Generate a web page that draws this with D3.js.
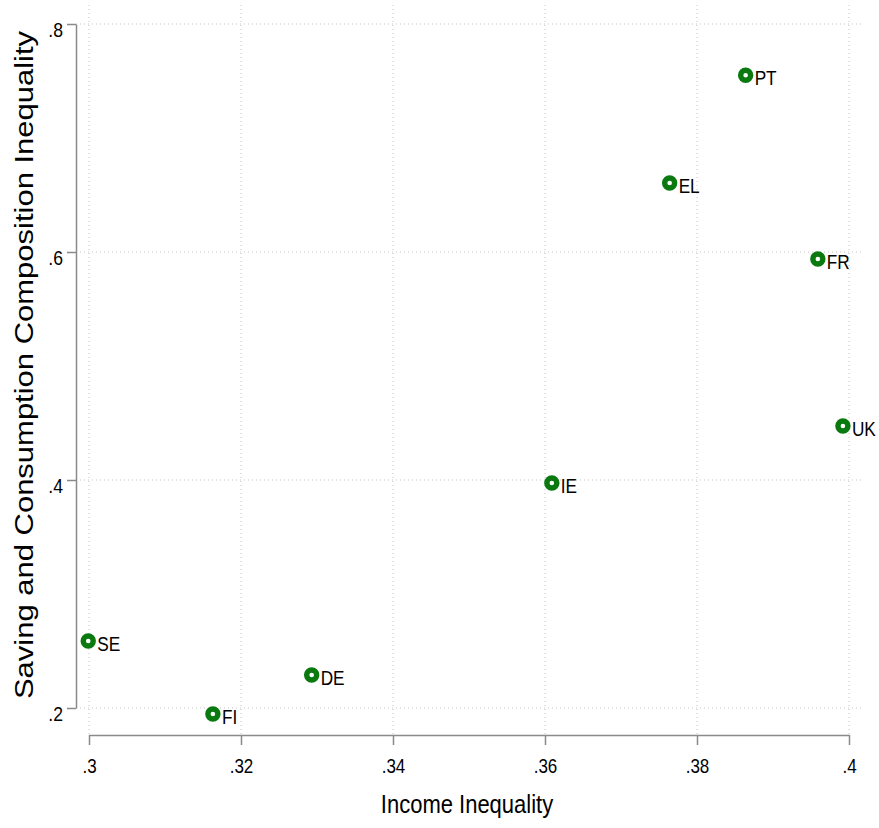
<!DOCTYPE html>
<html>
<head>
<meta charset="utf-8">
<script src="https://cdn.jsdelivr.net/npm/d3@7"></script>
<style>
  html, body { margin: 0; padding: 0; background: #fff; }
  svg text { font-family: "Liberation Sans", Arial, Helvetica, sans-serif; fill: #000; }
</style>
</head>
<body>
<svg id="chart" width="879" height="828"></svg>
<script>
const countries = ["PT", "EL", "FR", "UK", "IE", "SE", "DE", "FI"];
const incomeInequality = [0.3864, 0.3764, 0.3959, 0.3992, 0.3609, 0.2999, 0.3293, 0.3163];
const compositionInequality = [0.755, 0.6605, 0.5939, 0.4474, 0.3974, 0.2588, 0.229, 0.1947];
const xTicks = [0.3, 0.32, 0.34, 0.36, 0.38, 0.4];
const yTicks = [0.2, 0.4, 0.6, 0.8];
const xTitle = "Income Inequality";
const yTitle = "Saving and Consumption Composition Inequality";

const data = countries.map((c, i) => ({ c, x: incomeInequality[i], y: compositionInequality[i] }));
const svg = d3.select("#chart");

const x = d3.scaleLinear().domain([0.3, 0.4]).range([89, 849]);
const y = d3.scaleLinear().domain([0.2, 0.8]).range([708, 24]);
const fmt = v => d3.format(".2~f")(v).replace(/^0/, "");

// grid
const grid = svg.append("g");
grid.selectAll("line.h").data(yTicks).join("line")
  .attr("x1", 76).attr("x2", 862)
  .attr("y1", d => y(d)).attr("y2", d => y(d))
  .attr("stroke", "#c4c4c4").attr("stroke-width", 1).attr("stroke-dasharray", "1,3");
grid.selectAll("line.v").data(xTicks).join("line")
  .attr("y1", 5).attr("y2", 735)
  .attr("x1", d => x(d)).attr("x2", d => x(d))
  .attr("stroke", "#c4c4c4").attr("stroke-width", 1).attr("stroke-dasharray", "1,3");

// y axis
const yAxis = d3.axisLeft(y).tickValues(yTicks).tickSize(9).tickSizeOuter(0).tickFormat(fmt);
const gy = svg.append("g").attr("transform", "translate(76,0)").call(yAxis);
gy.select(".domain").attr("stroke", "#8a8a8a").attr("stroke-width", 1.5);
gy.selectAll(".tick line").attr("stroke", "#8a8a8a").attr("stroke-width", 1.5);
gy.selectAll(".tick text").text(null);
gy.selectAll(".tick").append("g")
  .attr("transform", "translate(-13,5) scale(0.88,1)")
  .append("text").attr("text-anchor", "end").attr("dy", "0.35em")
  .style("font-size", "20px").text(d => fmt(d));

// x axis
const xAxis = d3.axisBottom(x).tickValues(xTicks).tickSize(10).tickSizeOuter(0).tickFormat(fmt);
const gx = svg.append("g").attr("transform", "translate(0,735)").call(xAxis);
gx.select(".domain").attr("stroke", "#8a8a8a").attr("stroke-width", 1.5);
gx.selectAll(".tick line").attr("stroke", "#8a8a8a").attr("stroke-width", 1.5);
gx.selectAll(".tick text").text(null);
gx.selectAll(".tick").append("g")
  .attr("transform", "translate(0,38) scale(0.85,1)")
  .append("text").attr("text-anchor", "middle")
  .style("font-size", "20px").text(d => fmt(d));

// titles
svg.append("g").attr("transform", "translate(467,813) scale(0.88,1)")
  .append("text").attr("text-anchor", "middle").style("font-size", "25px").text(xTitle);
svg.append("g").attr("transform", "translate(33,365) scale(0.82,1) rotate(-90)")
  .append("text").attr("text-anchor", "middle").style("font-size", "31px").text(yTitle);

// points
const pts = svg.append("g");
pts.selectAll("circle").data(data).join("circle")
  .attr("cx", d => x(d.x)).attr("cy", d => y(d.y)).attr("r", 5)
  .attr("fill", "#fff").attr("stroke", "#0a7a10").attr("stroke-width", 5.4);
pts.selectAll("g.lab").data(data).join("g")
  .attr("transform", d => `translate(${x(d.x) + 9},${y(d.y) + 10}) scale(0.82,1)`)
  .append("text").style("font-size", "21px").text(d => d.c);
</script>
</body>
</html>
